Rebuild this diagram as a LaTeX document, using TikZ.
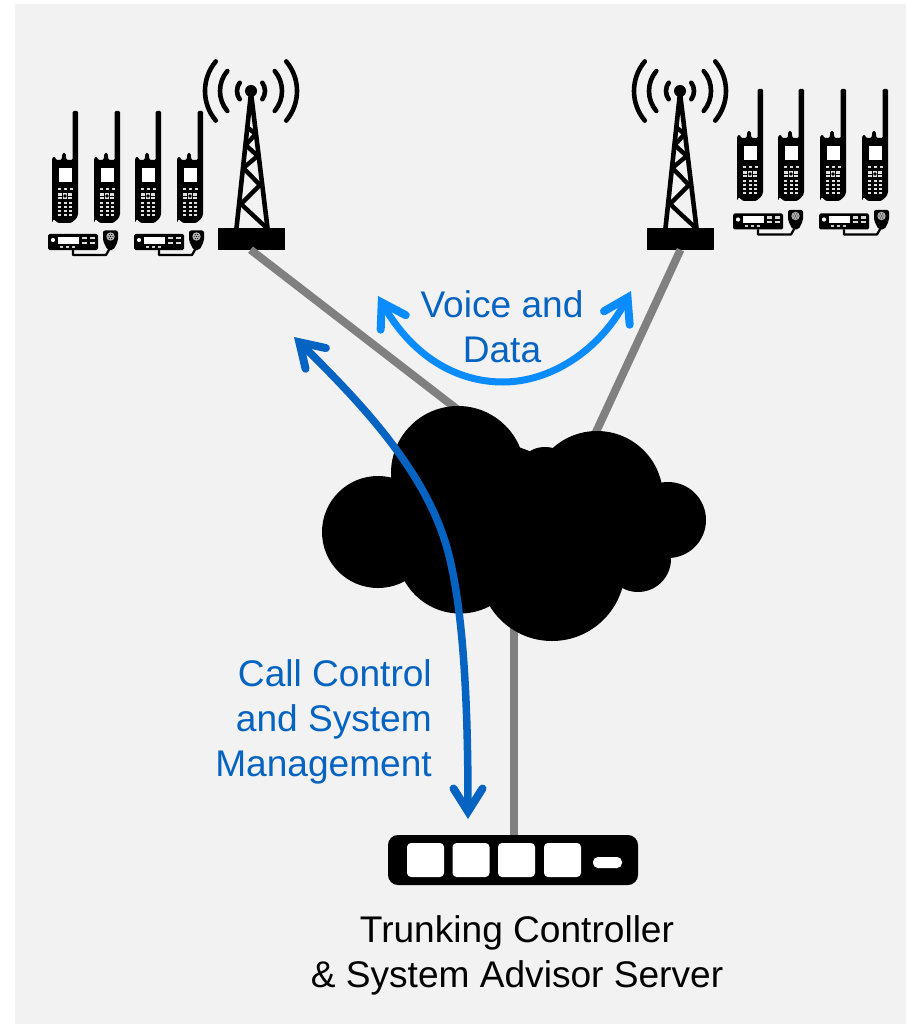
\documentclass[tikz,border=0pt]{standalone}
\usepackage{fontspec}
\setmainfont{Liberation Sans}
\usetikzlibrary{arrows.meta}
\definecolor{panel}{HTML}{F2F2F2}
\definecolor{linkgrey}{HTML}{808080}
\definecolor{deepblue}{HTML}{0563C1}
\definecolor{brightblue}{HTML}{0A8CFF}
\tikzset{
  x=1pt,y=-1pt,
  link/.style={draw=linkgrey,line width=8pt},
  blobpart/.style={fill=black},
  label/.style={font=\fontsize{37.1}{45}\selectfont,inner sep=0pt,align=center},
  bluelabel/.style={label,text=deepblue},
  voicearrow/.style={draw=brightblue,line width=7pt,line cap=butt,
    {Straight Barb[length=23pt,width=29pt,line width=8pt,line cap=round,line join=miter]}-{Straight Barb[length=23pt,width=29pt,line width=8pt,line cap=round,line join=miter]}},
  callarrow/.style={draw=deepblue,line width=7.5pt,line cap=butt,
    {Straight Barb[length=23pt,width=29pt,line width=8pt,line cap=round,line join=miter]}-{Straight Barb[length=23pt,width=29pt,line width=8pt,line cap=round,line join=miter]}},
  towerbase/.style={fill=black,inner sep=0pt,minimum width=67pt,minimum height=21pt},
  serverbox/.style={fill=black,rounded corners=10pt,inner sep=0pt,minimum width=250pt,minimum height=50pt},
  serverkey/.style={fill=white,rounded corners=4pt,inner sep=0pt,minimum width=37pt,minimum height=34pt},
  serverslot/.style={fill=white,rounded corners=5pt,inner sep=0pt,minimum width=29pt,minimum height=11pt},
  tower/.pic={
    \fill (0,0) circle[radius=6pt];
    \draw[line width=4.6pt,line join=round] (-14.5,137) -- (0,2) -- (16.5,137);
    \draw[line width=4.4pt,line join=round]
      (-3.3,36.7) -- (4.7,43) -- (-5.3,54) -- (6.7,65) -- (-7.7,77) -- (9,94) -- (-10,113) -- (15.7,137);
    \foreach \r/\a in {14/36,31/40,46/40}{
      \draw[line width=4.6pt,line cap=round] (0,0) ++(-\a:\r pt) arc[start angle=-\a,end angle=\a,radius=\r pt];
      \draw[line width=4.6pt,line cap=round] (0,0) ++(180-\a:\r pt) arc[start angle=180-\a,end angle=180+\a,radius=\r pt];
    }
  },
  handheld/.pic={
    \fill[rounded corners=1.2pt] (0,66) -- (0,1) -- (3,-0.5) -- (4,3) -- (9.5,3) -- (10.5,-4) -- (13.5,-4) -- (14.5,3)
      -- (20.7,3) -- (20.7,-46) -- (26,-46) -- (26,58) -- (24,62) -- (19,66) -- (6,66) -- (1.5,62) -- cycle;
    \fill[white] (6.5,11.5) rectangle (19.5,25.5);
    \foreach \kx in {6,12,18}{\fill[white!85!black] (\kx,30.6) rectangle +(3,2.4);}
    \fill[white!88!black] (6,36) rectangle (20,42);
    \fill (13,39) circle[radius=1.8pt];
    \fill (10,36) rectangle (10.8,42);
    \fill (15.2,36) rectangle (16,42);
    \fill (6,38.6) rectangle (10,39.4);
    \fill (16,38.6) rectangle (20,39.4);
    \foreach \ky in {45,49,53,57}{
      \foreach \kx in {6,11.5,17}{\fill[white!88!black] (\kx,\ky) rectangle +(3.4,2.2);}
    }
  },
  mobileradio/.pic={
    \fill[rounded corners=1.5pt] (0,1) rectangle (50,17);
    \fill[white] (5,7) circle[radius=2.1pt];
    \fill[white] (10,4) rectangle (31,11);
    \foreach \kx in {34,42}{
      \fill[white!85!black] (\kx,3.8) rectangle +(5,2.5);
      \fill[white!85!black] (\kx,8.5) rectangle +(5,2.5);
    }
    \foreach \kx in {12,18,24}{\fill[white!80!black] (\kx,13) rectangle +(3.4,2);}
    \draw[line width=2.2pt,line join=round] (25,17) -- (25,22) -- (58,22) -- (62,15);
    \fill[rounded corners=2pt] (55,-2.5) -- (70,-2.5) -- (70,8) -- (65.5,17) -- (59.5,17) -- (55,8) -- cycle;
    \fill[white!70!black] (62.5,3.5) circle[radius=4.2pt];
    \foreach \da in {0,60,...,300}{\fill (62.5,3.5) ++(\da:2.4pt) circle[radius=.55pt];}
    \fill (62.5,3.5) circle[radius=.7pt];
  }
}
\begin{document}
\begin{tikzpicture}
\useasboundingbox (0,0) rectangle (906,1024);
\fill[white] (0,0) rectangle (906,1024);
\fill[panel] (15,4) rectangle (906,1024);

% anchors
\coordinate (cloudNW) at (462,413);
\coordinate (cloudNE) at (590,445);
\coordinate (cloudS) at (514,625);

% equipment
\node[towerbase] (towerL) at (251.5,239) {};
\node[towerbase] (towerR) at (680.5,239) {};
\node[serverbox] (server) at (513,860) {};
\node[serverkey] (k1) at (425.5,860) {};
\node[serverkey] (k2) at (471,860) {};
\node[serverkey] (k3) at (516.5,860) {};
\node[serverkey] (k4) at (562.5,860) {};
\node[serverslot] (slot) at (607.5,862.5) {};

% links
\draw[link] (towerL.south) ++(-1,0) -- (cloudNW);
\draw[link] (towerR.south) -- (cloudNE);
\draw[link] (cloudS) -- (server.north -| cloudS);

% cloud
\fill[blobpart] (378,532) circle[radius=56pt];
\fill[blobpart] (458,473) circle[radius=67pt];
\fill[blobpart] (460,550) circle[radius=63.5pt];
\fill[blobpart] (552,568) circle[radius=73pt];
\fill[blobpart] (597,497) circle[radius=66pt];
\fill[blobpart] (545,477) circle[radius=30pt];
\fill[blobpart] (668,520) circle[radius=38pt];
\fill[blobpart] (638,559) circle[radius=33pt];
\fill[blobpart] (400,500) -- (500,440) -- (660,500) -- (640,570) -- (500,600) -- (420,570) -- cycle;

% radios
\pic at (251,91) {tower};
\pic at (680,91) {tower};
\foreach \hx in {52,94,135,177}{\pic at (\hx,157) {handheld};}
\foreach \hx in {737,778,820,862}{\pic at (\hx,135) {handheld};}
\foreach \mx in {48,134}{\pic at (\mx,233) {mobileradio};}
\foreach \mx in {733,819}{\pic at (\mx,212.5) {mobileradio};}

% flows
\coordinate (vA) at (378,296);
\coordinate (vB) at (503,382);
\coordinate (vC) at (631,291);
\draw[voicearrow] (vA) .. controls (412,355) and (455,382) .. (vB) .. controls (551,382) and (600,350) .. (vC);
\coordinate (cA) at (294,337);
\coordinate (cB) at (447,548);
\coordinate (cC) at (468,819);
\draw[callarrow] (cA) .. controls (360,402) and (425,470) .. (cB) .. controls (465,612) and (468,720) .. (cC);

% labels
\node[bluelabel] (voice) at (502,327) {Voice and\\Data};
\node[bluelabel,align=right,anchor=east] (call) at (432,722) {Call Control\\and System\\Management};
\node[label] (trunk) at (517,955) {Trunking Controller\\\& System Advisor Server};
\end{tikzpicture}
\end{document}
